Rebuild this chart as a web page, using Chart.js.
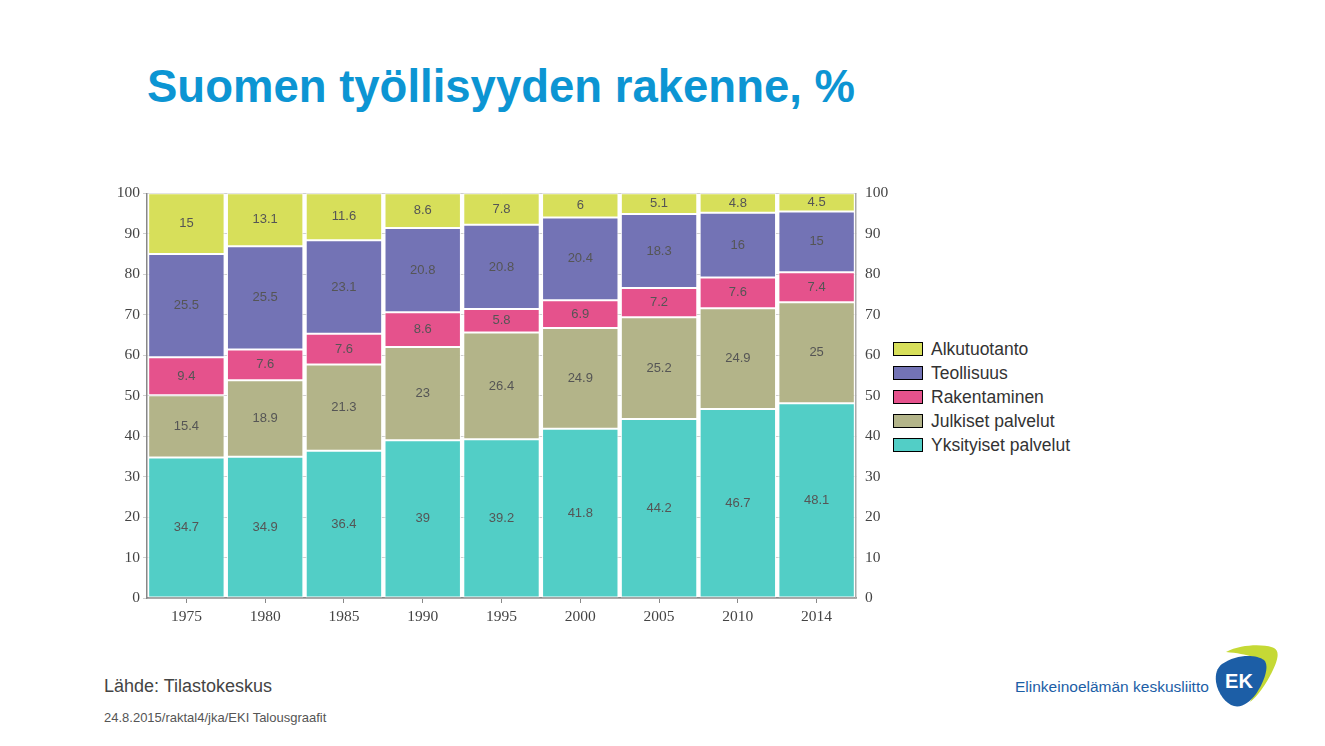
<!DOCTYPE html>
<html>
<head>
<meta charset="utf-8">
<script src="https://cdn.jsdelivr.net/npm/chart.js@4"></script>
<style>
  body { margin: 0; background: #fff; font-family: Arial, "Liberation Sans", sans-serif; }
  #page { position: relative; width: 1325px; height: 746px; overflow: hidden; }
  #title { position: absolute; left: 147px; top: 61px; font-size: 45.5px; font-weight: bold; color: #0c95d3; white-space: nowrap; }
  #chartBox { position: absolute; left: 100px; top: 175px; width: 790px; height: 460px; }
  #legend { position: absolute; left: 893px; top: 337px; }
  .item { height: 24px; display: flex; align-items: center; font-size: 17.5px; color: #333; }
  .box { width: 28px; height: 12px; border: 1px solid #000; margin-right: 8px; }
  #source { position: absolute; left: 104px; top: 676px; font-size: 18px; color: #444; }
  #note { position: absolute; left: 104px; top: 710px; font-size: 13px; color: #555; }
  #logoText { position: absolute; left: 1015px; top: 678px; font-size: 15.5px; color: #1c5ea6; }
  #logo { position: absolute; left: 1212px; top: 642px; }
</style>
</head>
<body>
<div id="page">
  <div id="title">Suomen työllisyyden rakenne, %</div>
  <div id="chartBox"><canvas id="myChart"></canvas></div>
  <div id="legend"></div>
  <div id="source">Lähde: Tilastokeskus</div>
  <div id="note">24.8.2015/raktal4/jka/EKI Talousgraafit</div>
  <div id="logoText">Elinkeinoelämän keskusliitto</div>
  <svg id="logo" width="70" height="70" viewBox="0 0 70 70">
    <path d="M14 10 C30 2 52 2 62 6 C68 9 66 18 60 30 C54 42 46 54 38 60 C44 48 50 34 50 24 C50 16 36 12 14 10 Z" fill="#c5d935"/>
    <path d="M10 22 C24 12 44 12 52 18 C58 24 52 40 44 52 C38 60 30 66 22 64 C14 62 6 52 4 40 C3 32 5 26 10 22 Z" fill="#1c5ea6"/>
    <text x="27" y="46" font-family="Arial" font-weight="bold" font-size="20" fill="#fff" text-anchor="middle">EK</text>
  </svg>
</div>
<script>
const years = ['1975', '1980', '1985', '1990', '1995', '2000', '2005', '2010', '2014'];
const yksityiset = [34.7, 34.9, 36.4, 39, 39.2, 41.8, 44.2, 46.7, 48.1];
const julkiset = [15.4, 18.9, 21.3, 23, 26.4, 24.9, 25.2, 24.9, 25];
const rakentaminen = [9.4, 7.6, 7.6, 8.6, 5.8, 6.9, 7.2, 7.6, 7.4];
const teollisuus = [25.5, 25.5, 23.1, 20.8, 20.8, 20.4, 18.3, 16, 15];
const alkutuotanto = [15, 13.1, 11.6, 8.6, 7.8, 6, 5.1, 4.8, 4.5];
const yTicks = [0, 10, 20, 30, 40, 50, 60, 70, 80, 90, 100];

const series = [
    { label: 'Yksityiset palvelut', data: yksityiset, color: '#52cec6' },
    { label: 'Julkiset palvelut', data: julkiset, color: '#b3b489' },
    { label: 'Rakentaminen', data: rakentaminen, color: '#e5528c' },
    { label: 'Teollisuus', data: teollisuus, color: '#7373b5' },
    { label: 'Alkutuotanto', data: alkutuotanto, color: '#d7df5a' },
];

// legend, top item is the last series
let legend = document.getElementById('legend');
series.slice().reverse().forEach((s) => {
    let item = document.createElement('div');
    item.className = 'item';
    item.innerHTML = '<span class="box" style="background:' + s.color + '"></span>' + s.label;
    legend.appendChild(item);
});

// draws the value in the middle of each bar piece
const valueLabels = {
    id: 'valueLabels',
    afterDatasetsDraw(chart) {
        const ctx = chart.ctx;
        ctx.save();
        ctx.font = '13px Arial';
        ctx.fillStyle = '#555';
        ctx.textAlign = 'center';
        ctx.textBaseline = 'middle';
        chart.data.datasets.forEach((ds, i) => {
            chart.getDatasetMeta(i).data.forEach((bar, j) => {
                const mid = (bar.y + bar.base) / 2;
                ctx.fillText(String(ds.data[j]), bar.x, mid);
            });
        });
        ctx.restore();
    },
};

const tickFont = { family: '"Liberation Serif", "Times New Roman", serif', size: 15.5 };

let ctx = document.getElementById('myChart').getContext('2d');

new Chart(ctx, {
    type: 'bar',
    data: {
        labels: years,
        datasets: series.map((s) => ({
            label: s.label,
            data: s.data,
            backgroundColor: s.color,
            borderColor: '#ffffff',
            borderWidth: 1,
            borderSkipped: false,
            barPercentage: 0.97,
            categoryPercentage: 1,
        })),
    },
    options: {
        responsive: true,
        maintainAspectRatio: false,
        animation: false,
        layout: { padding: 0 },
        plugins: {
            legend: { display: false },
            tooltip: { enabled: false },
        },
        scales: {
            x: {
                stacked: true,
                grid: { offset: false, drawOnChartArea: false, tickLength: 5, color: '#888' },
                border: { color: '#888', width: 1.5 },
                ticks: { color: '#444', font: tickFont, padding: 5 },
                afterFit(scale) { scale.height = 37; },
            },
            y: {
                stacked: true,
                min: 0,
                max: 100,
                afterBuildTicks(scale) { scale.ticks = yTicks.map((v) => ({ value: v })); },
                grid: { color: '#cfcfcf', tickLength: 4 },
                border: { color: '#888', width: 1.5 },
                ticks: { color: '#444', font: tickFont, padding: 3 },
                afterFit(scale) { scale.width = 47; },
            },
            y2: {
                position: 'right',
                min: 0,
                max: 100,
                afterBuildTicks(scale) { scale.ticks = yTicks.map((v) => ({ value: v })); },
                grid: { drawOnChartArea: false, tickLength: 0 },
                border: { color: '#aaa', width: 1.5 },
                ticks: { color: '#444', font: tickFont, padding: 9 },
                afterFit(scale) { scale.width = 34; },
            },
        },
    },
    plugins: [valueLabels],
});
</script>
</body>
</html>
